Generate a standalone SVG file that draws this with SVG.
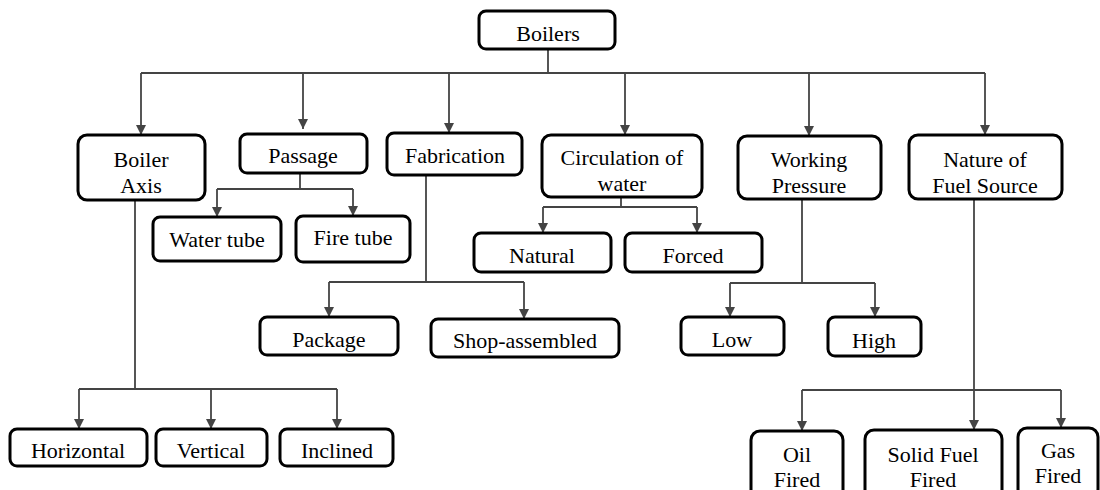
<svg xmlns="http://www.w3.org/2000/svg" width="1100" height="490" viewBox="0 0 1100 490">
<style>
.box{fill:#fff;stroke:#000;stroke-width:3}
.t{font-family:"Liberation Serif","Times New Roman",serif;font-size:22px;fill:#000;text-anchor:middle}
.c{fill:none;stroke:#444;stroke-width:1.8}
</style>
<defs>
<marker id="ah" markerUnits="userSpaceOnUse" markerWidth="11" markerHeight="11" refX="10" refY="5" orient="auto">
<path d="M0,0 L10,5 L0,10 z" fill="#444"/>
</marker>
</defs>
<rect width="1100" height="490" fill="#fff"/>
<g id="connectors">
<path class="c" d="M548,49 V73 M141,73 H985"/>
<path class="c" d="M141,73 V135" marker-end="url(#ah)"/>
<path class="c" d="M303,73 V129" marker-end="url(#ah)"/>
<path class="c" d="M449,73 V133" marker-end="url(#ah)"/>
<path class="c" d="M625,73 V135" marker-end="url(#ah)"/>
<path class="c" d="M809,73 V136" marker-end="url(#ah)"/>
<path class="c" d="M985,73 V135" marker-end="url(#ah)"/>
<path class="c" d="M300,173 V189 M217,189 H353"/>
<path class="c" d="M217,189 V217" marker-end="url(#ah)"/>
<path class="c" d="M353,189 V216" marker-end="url(#ah)"/>
<path class="c" d="M426,175 V282 M329,282 H524"/>
<path class="c" d="M329,282 V317" marker-end="url(#ah)"/>
<path class="c" d="M524,282 V319" marker-end="url(#ah)"/>
<path class="c" d="M621,197 V207 M543,207 H697"/>
<path class="c" d="M543,207 V233" marker-end="url(#ah)"/>
<path class="c" d="M697,207 V233" marker-end="url(#ah)"/>
<path class="c" d="M802,199 V283 M730,283 H875"/>
<path class="c" d="M730,283 V317" marker-end="url(#ah)"/>
<path class="c" d="M875,283 V317" marker-end="url(#ah)"/>
<path class="c" d="M135,201 V390 M79,389 H337"/>
<path class="c" d="M79,389 V429" marker-end="url(#ah)"/>
<path class="c" d="M211,389 V429" marker-end="url(#ah)"/>
<path class="c" d="M337,389 V429" marker-end="url(#ah)"/>
<path class="c" d="M802,390 H1061"/>
<path class="c" d="M974,199 V430" marker-end="url(#ah)"/>
<path class="c" d="M802,390 V431" marker-end="url(#ah)"/>
<path class="c" d="M1061,390 V428" marker-end="url(#ah)"/>
</g>
<g id="n-boilers"><rect class="box" x="479" y="11" width="136" height="38" rx="7"/><text class="t" x="548" y="41">Boilers</text></g>
<g id="n-axis"><rect class="box" x="78" y="135" width="127" height="65" rx="9"/><text class="t" x="141" y="167">Boiler</text><text class="t" x="141" y="193">Axis</text></g>
<g id="n-passage"><rect class="box" x="240" y="134" width="127" height="39" rx="7"/><text class="t" x="303" y="163">Passage</text></g>
<g id="n-fabrication"><rect class="box" x="387" y="133" width="135" height="42" rx="7"/><text class="t" x="455" y="163">Fabrication</text></g>
<g id="n-circulation"><rect class="box" x="542" y="135" width="160" height="62" rx="9"/><text class="t" x="622" y="165">Circulation of</text><text class="t" x="622" y="191">water</text></g>
<g id="n-working"><rect class="box" x="738" y="136" width="143" height="63" rx="9"/><text class="t" x="809" y="167">Working</text><text class="t" x="809" y="193">Pressure</text></g>
<g id="n-nature"><rect class="box" x="909" y="135" width="153" height="64" rx="9"/><text class="t" x="985" y="167">Nature of</text><text class="t" x="985" y="193">Fuel Source</text></g>
<g id="n-watertube"><rect class="box" x="153" y="217" width="128" height="44" rx="7"/><text class="t" x="217" y="247">Water tube</text></g>
<g id="n-firetube"><rect class="box" x="296" y="216" width="114" height="46" rx="7"/><text class="t" x="353" y="245">Fire tube</text></g>
<g id="n-natural"><rect class="box" x="474" y="233" width="137" height="39" rx="7"/><text class="t" x="542" y="263">Natural</text></g>
<g id="n-forced"><rect class="box" x="625" y="233" width="137" height="39" rx="7"/><text class="t" x="693" y="263">Forced</text></g>
<g id="n-package"><rect class="box" x="260" y="317" width="138" height="38" rx="7"/><text class="t" x="329" y="347">Package</text></g>
<g id="n-shop"><rect class="box" x="431" y="319" width="188" height="38" rx="7"/><text class="t" x="525" y="348">Shop-assembled</text></g>
<g id="n-low"><rect class="box" x="681" y="317" width="103" height="38" rx="7"/><text class="t" x="732" y="347">Low</text></g>
<g id="n-high"><rect class="box" x="828" y="317" width="93" height="39" rx="7"/><text class="t" x="874" y="348">High</text></g>
<g id="n-horizontal"><rect class="box" x="10" y="429" width="137" height="37" rx="7"/><text class="t" x="78" y="458">Horizontal</text></g>
<g id="n-vertical"><rect class="box" x="156" y="429" width="111" height="37" rx="7"/><text class="t" x="211" y="458">Vertical</text></g>
<g id="n-inclined"><rect class="box" x="280" y="429" width="113" height="37" rx="7"/><text class="t" x="337" y="458">Inclined</text></g>
<g id="n-oil"><rect class="box" x="751" y="431" width="92" height="70" rx="9"/><text class="t" x="797" y="462">Oil</text><text class="t" x="797" y="487">Fired</text></g>
<g id="n-solid"><rect class="box" x="865" y="430" width="137" height="70" rx="9"/><text class="t" x="933" y="462">Solid Fuel</text><text class="t" x="933" y="487">Fired</text></g>
<g id="n-gas"><rect class="box" x="1018" y="428" width="80" height="70" rx="9"/><text class="t" x="1058" y="458">Gas</text><text class="t" x="1058" y="483">Fired</text></g>
</svg>
